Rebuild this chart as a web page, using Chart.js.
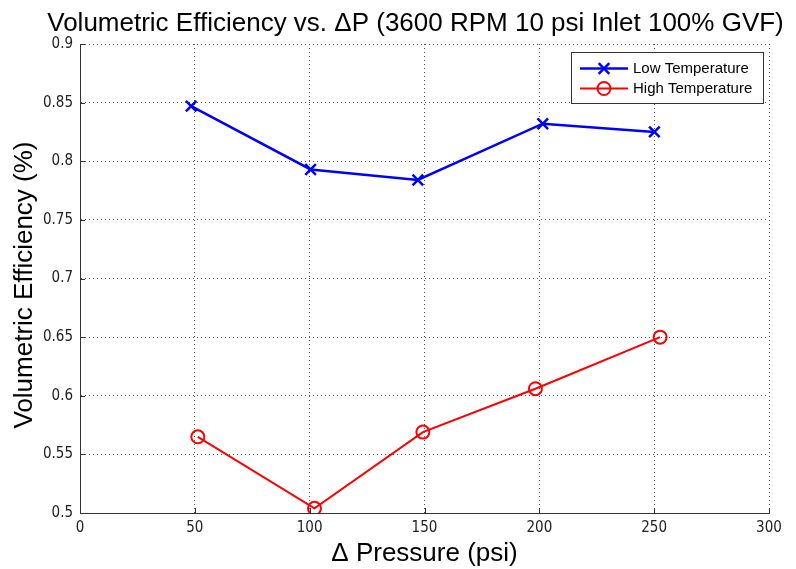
<!DOCTYPE html>
<html>
<head>
<meta charset="utf-8">
<script src="https://cdn.jsdelivr.net/npm/chart.js@4/dist/chart.umd.min.js"></script>
<style>
  html, body { margin: 0; padding: 0; background: #ffffff; }
  #wrap { width: 796px; height: 569px; }
</style>
</head>
<body>
<div id="wrap"><canvas id="veChart" width="796" height="569"></canvas></div>
<script>
// --- Data ---
const lowTempPressure = [48.4, 100.4, 147.1, 201.5, 250.1];
const lowTempEfficiency = [0.847, 0.793, 0.784, 0.832, 0.825];
const highTempPressure = [51.3, 102.1, 149.3, 198.3, 252.6];
const highTempEfficiency = [0.565, 0.504, 0.569, 0.606, 0.650];

const seriesNames = ['Low Temperature', 'High Temperature'];
const xTickValues = [0, 50, 100, 150, 200, 250, 300];
const yTickValues = [0.5, 0.55, 0.6, 0.65, 0.7, 0.75, 0.8, 0.85, 0.9];

const chartTitle = 'Volumetric Efficiency vs. \u0394P (3600 RPM 10 psi Inlet 100% GVF)';
const xAxisTitle = '\u0394 Pressure (psi)';
const yAxisTitle = 'Volumetric Efficiency (%)';

const labelFont = 'Liberation Sans, Arial, sans-serif';
const tickFont = 'Liberation Sans Narrow, DejaVu Sans Condensed, Liberation Sans, sans-serif';

function toPoints(xs, ys) {
    return xs.map((x, i) => ({ x: x, y: ys[i] }));
}

// Title, y label, inward tick marks and the boxed legend inside the plot (MATLAB style)
const matlabExtras = {
    id: 'matlabExtras',
    afterDraw(chart) {
        const ctx = chart.ctx;
        const area = chart.chartArea;
        const xs = chart.scales.x;
        const ys = chart.scales.y;

        // title
        ctx.save();
        ctx.fillStyle = '#000';
        ctx.font = '26px ' + labelFont;
        ctx.textAlign = 'center';
        ctx.textBaseline = 'alphabetic';
        ctx.fillText(chartTitle, 415.5, 31);
        // y axis label (sits a little below the plot centre in the original)
        ctx.translate(25, 285);
        ctx.rotate(-Math.PI / 2);
        ctx.textBaseline = 'middle';
        ctx.fillText(yAxisTitle, 0, 0);
        ctx.restore();

        // short solid ticks pointing into the plot
        ctx.save();
        ctx.strokeStyle = '#333';
        ctx.lineWidth = 1;
        ctx.beginPath();
        xTickValues.forEach(v => {
            const px = Math.round(xs.getPixelForValue(v)) + 0.5;
            ctx.moveTo(px, area.bottom);
            ctx.lineTo(px, area.bottom - 5);
        });
        yTickValues.forEach(v => {
            const py = Math.round(ys.getPixelForValue(v)) + 0.5;
            ctx.moveTo(area.left, py);
            ctx.lineTo(area.left + 5, py);
        });
        ctx.stroke();
        ctx.restore();

        // legend box
        const bx = 571.5, by = 52.5, bw = 192, bh = 51;
        ctx.save();
        ctx.fillStyle = '#fff';
        ctx.fillRect(bx, by, bw, bh);
        ctx.strokeStyle = '#333';
        ctx.lineWidth = 1;
        ctx.strokeRect(bx, by, bw, bh);
        const rowY = [68.5, 88.5];
        chart.data.datasets.forEach((ds, i) => {
            const y = rowY[i];
            ctx.strokeStyle = ds.borderColor;
            ctx.lineWidth = ds.borderWidth;
            ctx.beginPath();
            ctx.moveTo(580, y);
            ctx.lineTo(628, y);
            ctx.stroke();
            ctx.fillStyle = 'rgba(0,0,0,0)';
            ctx.strokeStyle = ds.pointBorderColor;
            ctx.lineWidth = ds.pointBorderWidth;
            Chart.helpers.drawPoint(ctx, {
                pointStyle: ds.pointStyle,
                radius: ds.pointRadius,
                borderWidth: ds.pointBorderWidth,
                rotation: 0
            }, 604, y);
            ctx.fillStyle = '#000';
            ctx.font = '15px ' + labelFont;
            ctx.textAlign = 'left';
            ctx.textBaseline = 'middle';
            ctx.fillText(ds.label, 633, y);
        });
        ctx.restore();
    }
};

const ctx = document.getElementById('veChart').getContext('2d');
new Chart(ctx, {
    type: 'line',
    data: {
        datasets: [
            {
                label: seriesNames[0],
                data: toPoints(lowTempPressure, lowTempEfficiency),
                borderColor: '#0000ff',
                backgroundColor: 'rgba(0,0,0,0)',
                borderWidth: 2.5,
                pointStyle: 'crossRot',
                pointRadius: 7.5,
                pointBorderWidth: 2.5,
                pointBorderColor: '#0000ff',
                pointBackgroundColor: 'rgba(0,0,0,0)',
                tension: 0
            },
            {
                label: seriesNames[1],
                data: toPoints(highTempPressure, highTempEfficiency),
                borderColor: '#ff0000',
                backgroundColor: 'rgba(0,0,0,0)',
                borderWidth: 2,
                pointStyle: 'circle',
                pointRadius: 6.5,
                pointBorderWidth: 2,
                pointBorderColor: '#ff0000',
                pointBackgroundColor: 'rgba(0,0,0,0)',
                tension: 0
            }
        ]
    },
    options: {
        responsive: false,
        animation: false,
        layout: { padding: { top: 44, right: 27, left: 0, bottom: 0 } },
        plugins: {
            legend: { display: false },
            title: { display: false },
            tooltip: { enabled: false }
        },
        scales: {
            x: {
                type: 'linear',
                min: 0,
                max: 300,
                afterBuildTicks: (scale) => { scale.ticks = xTickValues.map(v => ({ value: v })); },
                afterFit: (scale) => { scale.height = 56; },
                ticks: {
                    color: '#222',
                    font: { family: tickFont, size: 15 },
                    padding: 6,
                    maxRotation: 0
                },
                grid: {
                    color: '#555',
                    lineWidth: 1,
                    drawTicks: false
                },
                border: { display: true, color: '#333', width: 1, dash: [1, 3] },
                title: {
                    display: true,
                    text: xAxisTitle,
                    color: '#000',
                    font: { family: labelFont, size: 26 },
                    padding: { top: 0, bottom: 0 }
                }
            },
            y: {
                type: 'linear',
                min: 0.5,
                max: 0.9,
                afterBuildTicks: (scale) => { scale.ticks = yTickValues.map(v => ({ value: v })); },
                afterFit: (scale) => { scale.width = 80; },
                ticks: {
                    color: '#222',
                    font: { family: tickFont, size: 15 },
                    padding: 7,
                    callback: (v) => String(+v.toFixed(2))
                },
                grid: {
                    color: '#555',
                    lineWidth: 1,
                    drawTicks: false
                },
                border: { display: true, color: '#333', width: 1, dash: [1, 3] },
                title: { display: false }
            }
        }
    },
    plugins: [matlabExtras]
});
</script>
</body>
</html>
